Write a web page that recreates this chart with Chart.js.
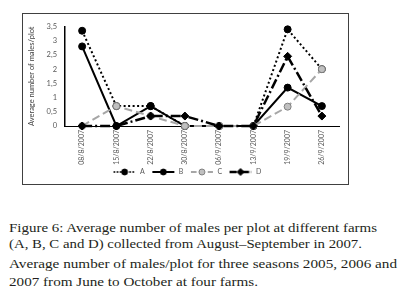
<!DOCTYPE html>
<html><head><meta charset="utf-8">
<script src="https://cdn.jsdelivr.net/npm/chart.js@4/dist/chart.umd.min.js"></script>
<style>
html,body{margin:0;padding:0;background:#fff;width:412px;height:299px;overflow:hidden;}
#box{position:absolute;left:22px;top:13px;width:325px;height:170px;border:1px solid #404040;}
#c{position:absolute;left:23px;top:14px;display:block}
.cap{position:absolute;left:9px;font-family:"Liberation Serif",serif;font-size:12.8px;line-height:16px;color:#231f20;white-space:nowrap;transform-origin:0 0;}
</style></head><body>
<div id="box"></div>
<canvas id="c" width="325" height="172"></canvas>
<div class="cap" style="top:220px" data-w="368">Figure 6: Average number of males per plot at different farms</div>
<div class="cap" style="top:236px" data-w="353">(A, B, C and D) collected from August–September in 2007.</div>
<div class="cap" style="top:256px" data-w="388">Average number of males/plot for three seasons 2005, 2006 and</div>
<div class="cap" style="top:274px" data-w="249">2007 from June to October at four farms.</div>
<script>
const categories = ['08/8/2007','15/8/2007','22/8/2007','30/8/2007','06/9/2007','13/9/2007','19/9/2007','26/9/2007'];
const seriesNames = ['A','B','C','D'];
const seriesA = [3.35, 0.7, 0.7, 0, 0, 0, 3.4, 2.0];
const seriesB = [2.8, 0, 0.7, 0, 0, 0, 1.35, 0.7];
const seriesC = [0, 0.7, 0.35, 0, 0, 0, 0.68, 2.0];
const seriesD = [0, 0, 0.35, 0.35, 0, 0, 2.45, 0.35];
const yTickValues = [0, 0.5, 1, 1.5, 2, 2.5, 3, 3.5];
const yTitle = 'Average number of males/plot';

document.querySelectorAll('.cap').forEach(el => {
  const w = el.getBoundingClientRect().width;
  const target = parseFloat(el.dataset.w);
  el.style.transform = 'scaleX(' + (target / w) + ')';
});

const styles = [
  {line:'#000', dash:[2,2.5], lw:2, pt:'circle', r:3.5, fill:'#000', pb:'#000'},
  {line:'#000', dash:[], lw:2, pt:'circle', r:3.5, fill:'#000', pb:'#000'},
  {line:'#a6a6a6', dash:[8,4], lw:2, pt:'circle', r:3.5, fill:'#c0c0c0', pb:'#7f7f7f'},
  {line:'#000', dash:[10,3,2,3], lw:2.5, pt:'rectRot', r:4, fill:'#000', pb:'#000'}
];

function makeIcon(s) {
  const cv = document.createElement('canvas');
  cv.width = 28; cv.height = 10;
  const ctx = cv.getContext('2d');
  ctx.strokeStyle = s.line; ctx.lineWidth = s.lw; ctx.setLineDash(s.dash.length ? s.dash.map(v=>v*0.7) : []);
  ctx.beginPath(); ctx.moveTo(5, 5); ctx.lineTo(27, 5); ctx.stroke();
  ctx.setLineDash([]);
  ctx.fillStyle = s.fill; ctx.strokeStyle = s.pb; ctx.lineWidth = 1;
  const cx = 16, cy = 5, r = s.r - 0.5;
  ctx.beginPath();
  if (s.pt === 'rectRot') { ctx.moveTo(cx, cy - r); ctx.lineTo(cx + r, cy); ctx.lineTo(cx, cy + r); ctx.lineTo(cx - r, cy); ctx.closePath(); }
  else { ctx.arc(cx, cy, r, 0, Math.PI * 2); }
  ctx.fill(); ctx.stroke();
  return cv;
}
const icons = styles.map(makeIcon);

const allSeries = [seriesA, seriesB, seriesC, seriesD];
const datasets = allSeries.map((d, i) => ({
  label: seriesNames[i],
  data: d,
  borderColor: styles[i].line,
  borderWidth: styles[i].lw,
  borderDash: styles[i].dash,
  pointStyle: styles[i].pt,
  pointRadius: styles[i].r,
  pointBackgroundColor: styles[i].fill,
  pointBorderColor: styles[i].pb,
  pointBorderWidth: 1,
  fill: false,
  tension: 0,
  clip: false,
  order: 4 - i
}));

const shiftLegend = {
  id: 'shiftLegend',
  afterLayout(chart) {
    if (chart.legend) { chart.legend.left += 3; chart.legend.right += 3; }
  }
};

const FONT = 'Lato, "Liberation Sans", sans-serif';

new Chart(document.getElementById('c'), {
  type: 'line',
  data: { labels: categories, datasets },
  plugins: [shiftLegend],
  options: {
    responsive: false,
    animation: false,
    devicePixelRatio: 1,
    layout: { padding: { left: 2, right: 9, top: 8, bottom: 0.5 } },
    plugins: {
      tooltip: { enabled: false },
      legend: {
        position: 'bottom',
        labels: {
          usePointStyle: true,
          pointStyleWidth: 28,
          padding: 2.5,
          color: '#595959',
          font: { family: FONT, size: 7 },
          generateLabels: (chart) => seriesNames.map((n, i) => ({
            text: n, pointStyle: icons[i], datasetIndex: i, hidden: false,
            fillStyle: '#000', strokeStyle: '#000', lineWidth: 0, fontColor: '#595959'
          }))
        }
      }
    },
    scales: {
      x: {
        type: 'category',
        offset: true,
        grid: { display: false, drawTicks: false },
        border: { display: true, color: '#000', width: 1 },
        ticks: {
          autoSkip: false, minRotation: 90, maxRotation: 90, padding: 4,
          color: '#595959', font: { family: FONT, size: 7 }
        },
        afterFit: (s) => { s.height = 40; }
      },
      y: {
        min: 0, max: 3.5,
        afterBuildTicks: (s) => { s.ticks = yTickValues.map(v => ({ value: v })); },
        grid: { display: false, drawTicks: false },
        border: { display: true, color: '#000', width: 1.5 },
        ticks: {
          padding: 8, color: '#595959',
          font: { family: FONT, size: 7.5 },
          callback: (v) => String(v).replace('.', ',')
        },
        title: {
          display: true, text: yTitle, color: '#404040', padding: { top: 2, bottom: 0 },
          font: { family: FONT, size: 7.5 }
        },
        afterFit: (s) => { s.width = 40; }
      }
    }
  }
});
</script>
</body></html>
